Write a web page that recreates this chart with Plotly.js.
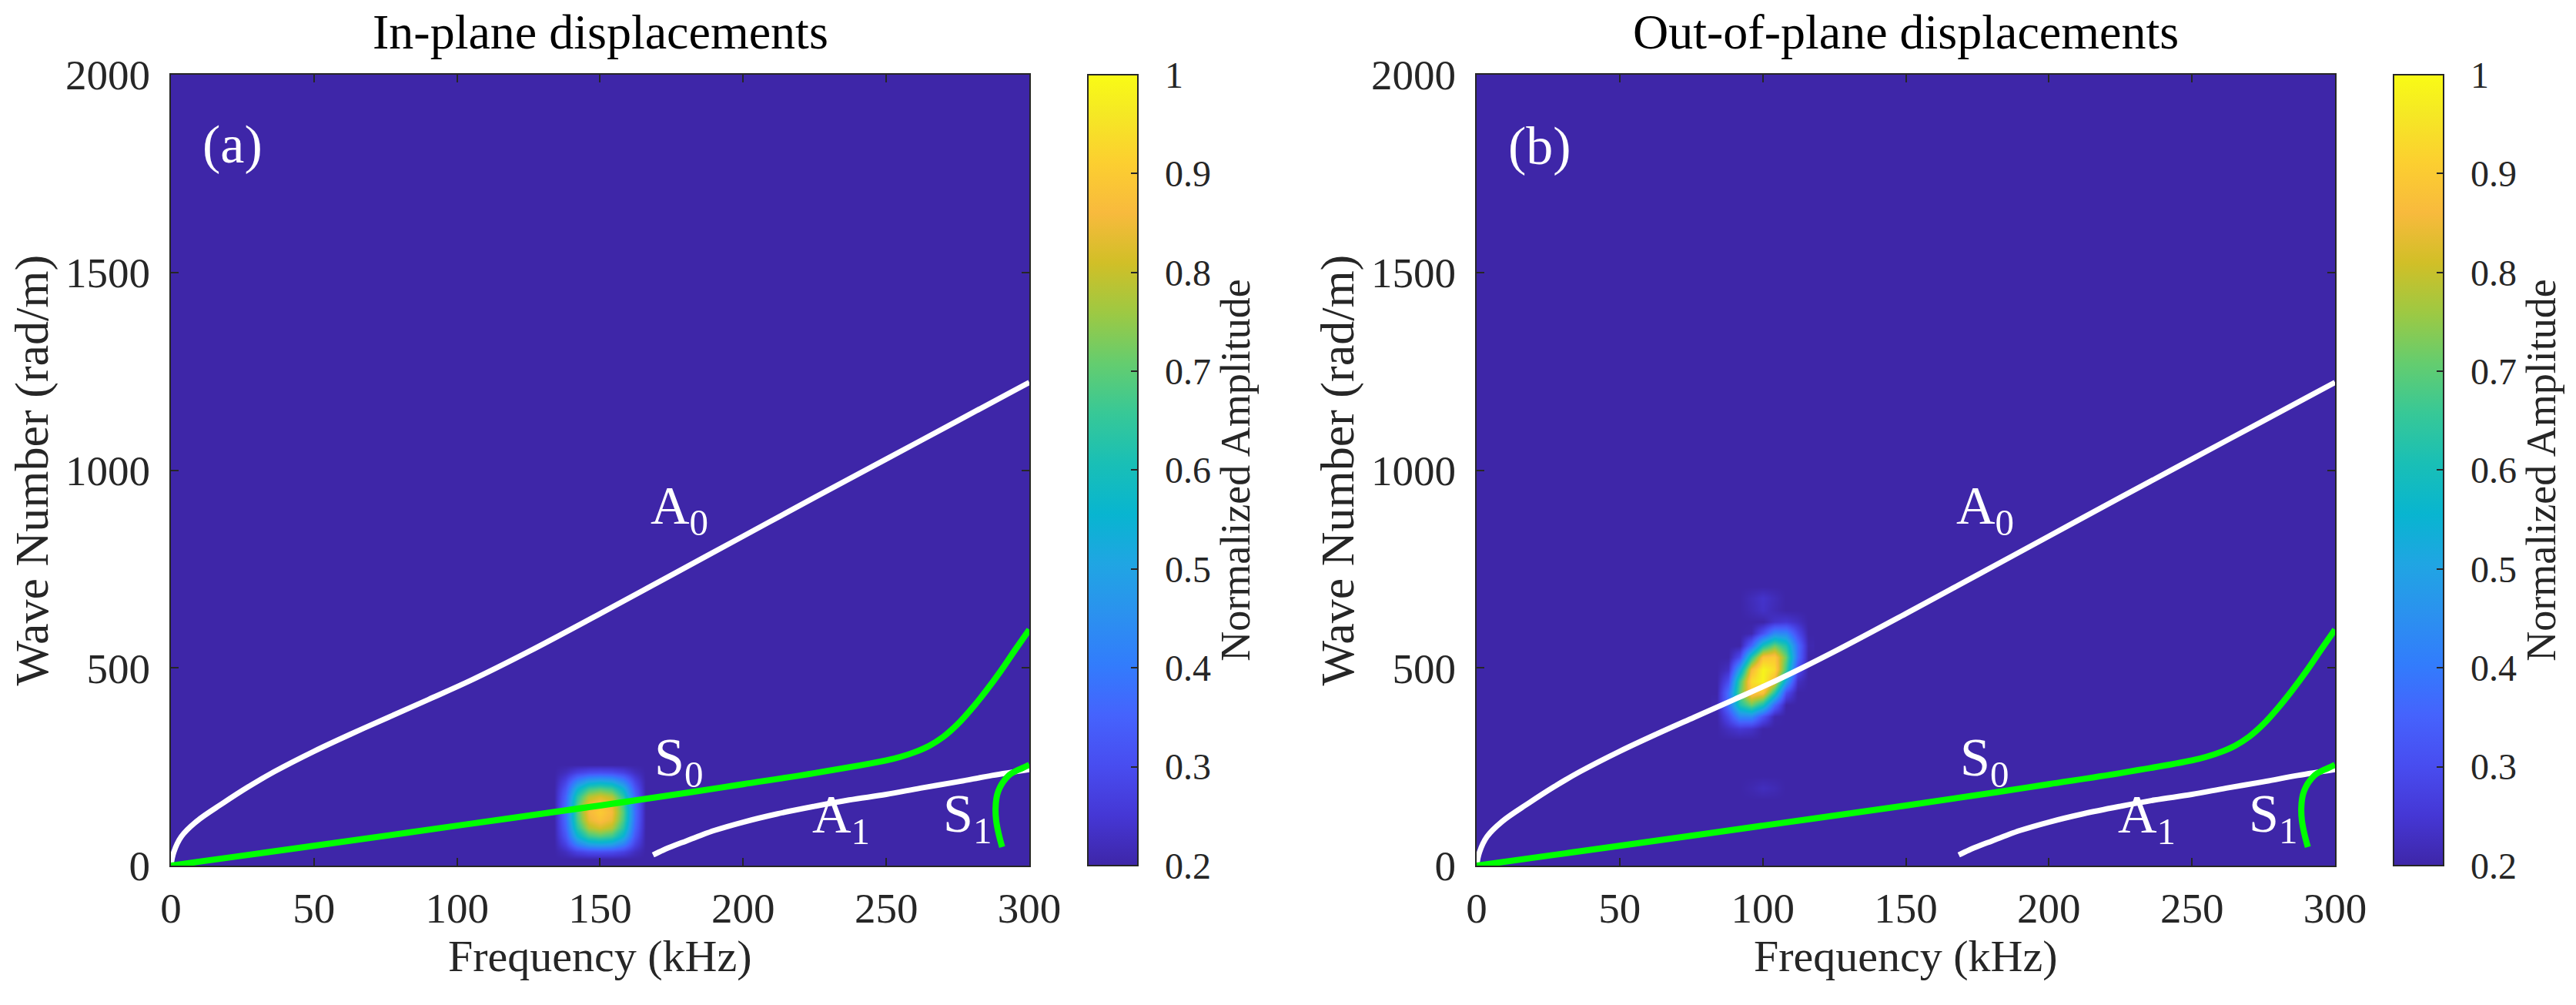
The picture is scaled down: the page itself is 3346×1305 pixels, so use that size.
<!DOCTYPE html>
<html>
<head>
<meta charset="utf-8">
<script src="https://cdn.plot.ly/plotly-3.0.1.min.js"></script>
<style>html,body{margin:0;padding:0;background:#fff;}#chart{width:3346px;height:1305px;}</style>
</head>
<body>
<div id="chart"></div>
<script>
// ---------- data ----------
const freqTicks = [0, 50, 100, 150, 200, 250, 300];
const waveTicks = [0, 500, 1000, 1500, 2000];
const cbTicks = [0.2, 0.3, 0.4, 0.5, 0.6, 0.7, 0.8, 0.9, 1];
const cbTickText = ['0.2', '0.3', '0.4', '0.5', '0.6', '0.7', '0.8', '0.9', '1'];

// dispersion curves (frequency kHz, wave number rad/m)
const A0_f = [0, 1, 3.6, 9, 18, 27, 36, 50, 63, 76, 90, 105, 125, 150, 175, 200, 225, 250, 275, 300];
const A0_k = [0, 34, 73, 112, 157, 199, 237, 289, 333, 375, 420, 469, 541, 637, 735, 833, 931, 1028, 1125, 1222];
const S0_f = [0, 25, 50, 100, 150, 182, 200, 225, 250, 255, 260, 265, 270, 275, 280, 285, 290, 295, 300];
const S0_k = [0, 25, 50, 101, 152, 186, 206, 234, 266, 275, 287, 303, 326, 358, 398, 443, 492, 545, 597];
const A1_f = [168.5, 172, 176, 180, 185, 190, 200, 212, 225, 237, 250, 262, 275, 287, 300];
const A1_k = [27, 39, 51, 62, 76, 89, 110, 131, 150, 166, 180, 196, 212, 228, 243];
const S1_f = [290.5, 289.3, 288.4, 288.2, 288.5, 289.2, 290.5, 292.8, 295.5, 298, 300];
const S1_k = [47, 80, 115, 144, 170, 189, 208, 228, 240, 248, 255];

// (a) in-plane amplitude spot
const blobA_f = [134, 138, 142, 146, 150, 154, 158, 162, 166];
const blobA_k = [15, 35, 55, 75, 95, 115, 135, 155, 175, 195, 215, 235, 255];
const blobA_z = [
  [0.2, 0.2,   0.2,   0.2,   0.2,   0.2,   0.2,   0.2,   0.2],
  [0.2, 0.226, 0.274, 0.299, 0.305, 0.299, 0.274, 0.226, 0.2],
  [0.2, 0.279, 0.42,  0.496, 0.515, 0.496, 0.42,  0.279, 0.2],
  [0.2, 0.322, 0.543, 0.661, 0.69,  0.661, 0.543, 0.322, 0.2],
  [0.2, 0.354, 0.631, 0.779, 0.816, 0.779, 0.631, 0.354, 0.2],
  [0.2, 0.37,  0.675, 0.838, 0.879, 0.838, 0.675, 0.37,  0.2],
  [0.2, 0.375, 0.69,  0.858, 0.9,   0.858, 0.69,  0.375, 0.2],
  [0.2, 0.37,  0.675, 0.838, 0.879, 0.838, 0.675, 0.37,  0.2],
  [0.2, 0.354, 0.631, 0.779, 0.816, 0.779, 0.631, 0.354, 0.2],
  [0.2, 0.322, 0.543, 0.661, 0.69,  0.661, 0.543, 0.322, 0.2],
  [0.2, 0.279, 0.42,  0.496, 0.515, 0.496, 0.42,  0.279, 0.2],
  [0.2, 0.226, 0.274, 0.299, 0.305, 0.299, 0.274, 0.226, 0.2],
  [0.2, 0.2,   0.2,   0.2,   0.2,   0.2,   0.2,   0.2,   0.2]
];

// (b) out-of-plane amplitude spot
const blobB_f = [84, 88, 92, 96, 100, 104, 108, 112, 116];
const blobB_k = [167, 197, 227, 257, 287, 317, 347, 377, 407, 437, 467, 497, 527, 557, 587, 617, 647, 677, 707];
const blobB_z = [
  [0.2, 0.2,   0.2,   0.2,   0.2,   0.2,   0.2,   0.2,   0.2],
  [0.2, 0.2,   0.2,   0.21,  0.225, 0.215, 0.2,   0.2,   0.2],
  [0.2, 0.2,   0.2,   0.2,   0.2,   0.2,   0.2,   0.2,   0.2],
  [0.2, 0.2,   0.2,   0.2,   0.2,   0.2,   0.2,   0.2,   0.2],
  [0.2, 0.2,   0.2,   0.2,   0.2,   0.2,   0.2,   0.2,   0.2],
  [0.2, 0.2,   0.2,   0.2,   0.2,   0.2,   0.2,   0.2,   0.2],
  [0.2, 0.228, 0.25,  0.238, 0.2,   0.2,   0.2,   0.2,   0.2],
  [0.2, 0.295, 0.432, 0.44,  0.314, 0.208, 0.2,   0.2,   0.2],
  [0.208, 0.376, 0.618, 0.716, 0.606, 0.359, 0.2, 0.2,   0.2],
  [0.2, 0.378, 0.71,  0.901, 0.882, 0.633, 0.302, 0.2,   0.2],
  [0.2, 0.301, 0.667, 0.934, 0.984, 0.86,  0.506, 0.231, 0.2],
  [0.2, 0.231, 0.506, 0.86,  0.984, 0.934, 0.667, 0.301, 0.2],
  [0.2, 0.2,   0.302, 0.633, 0.882, 0.901, 0.71,  0.378, 0.2],
  [0.2, 0.2,   0.2,   0.359, 0.606, 0.716, 0.618, 0.376, 0.208],
  [0.2, 0.2,   0.2,   0.208, 0.314, 0.44,  0.432, 0.295, 0.2],
  [0.2, 0.2,   0.2,   0.2,   0.2,   0.238, 0.25,  0.228, 0.2],
  [0.2, 0.2,   0.2,   0.215, 0.235, 0.215, 0.2,   0.2,   0.2],
  [0.2, 0.2,   0.2,   0.22,  0.24,  0.22,  0.2,   0.2,   0.2],
  [0.2, 0.2,   0.2,   0.2,   0.2,   0.2,   0.2,   0.2,   0.2]
];

// ---------- style ----------
const parula = [
  [0/63, 'rgb(62,38,168)'], [4/63, 'rgb(69,55,213)'], [8/63, 'rgb(72,77,240)'],
  [12/63, 'rgb(69,99,253)'], [16/63, 'rgb(50,124,252)'], [20/63, 'rgb(43,145,239)'],
  [24/63, 'rgb(32,165,227)'], [28/63, 'rgb(8,181,208)'], [32/63, 'rgb(25,191,182)'],
  [36/63, 'rgb(55,200,151)'], [40/63, 'rgb(100,205,111)'], [44/63, 'rgb(157,201,67)'],
  [48/63, 'rgb(209,191,39)'], [52/63, 'rgb(248,186,61)'], [56/63, 'rgb(252,207,48)'],
  [60/63, 'rgb(245,233,36)'], [1, 'rgb(249,251,21)']
];
const FONT = 'Liberation Serif, Times New Roman, Times, serif';
const INK = '#262626';
const WHITE_W = 7, GREEN_W = 8;

function curves(xa, ya) {
  return [
    {type: 'scatter', mode: 'lines', x: A0_f, y: A0_k, xaxis: xa, yaxis: ya, line: {color: '#ffffff', width: WHITE_W, shape: 'spline', smoothing: 1}, hoverinfo: 'skip'},
    {type: 'scatter', mode: 'lines', x: A1_f, y: A1_k, xaxis: xa, yaxis: ya, line: {color: '#ffffff', width: WHITE_W, shape: 'spline', smoothing: 1}, hoverinfo: 'skip'},
    {type: 'scatter', mode: 'lines', x: S0_f, y: S0_k, xaxis: xa, yaxis: ya, line: {color: '#00ff00', width: GREEN_W, shape: 'spline', smoothing: 1}, hoverinfo: 'skip'},
    {type: 'scatter', mode: 'lines', x: S1_f, y: S1_k, xaxis: xa, yaxis: ya, line: {color: '#00ff00', width: GREEN_W, shape: 'spline', smoothing: 1}, hoverinfo: 'skip'}
  ];
}

const data = [
  {type: 'heatmap', x: blobA_f, y: blobA_k, z: blobA_z, zsmooth: 'best', coloraxis: 'coloraxis', xaxis: 'x', yaxis: 'y', hoverinfo: 'skip'},
  ...curves('x', 'y'),
  {type: 'heatmap', x: blobB_f, y: blobB_k, z: blobB_z, zsmooth: 'best', coloraxis: 'coloraxis2', xaxis: 'x2', yaxis: 'y2', hoverinfo: 'skip'},
  ...curves('x2', 'y2')
];

const YDOM = [0.1387, 0.92567];
function xAxis(dom, anchor) {
  return {domain: dom, anchor: anchor, range: [0, 300], tickvals: freqTicks, ticktext: freqTicks.map(String),
    ticks: 'inside', ticklen: 10, tickwidth: 2, tickcolor: INK, mirror: 'ticks', showline: true, linecolor: INK, linewidth: 2,
    showgrid: false, zeroline: false, tickfont: {family: FONT, size: 55, color: INK}, ticklabelstandoff: 6, fixedrange: true};
}
function yAxis(anchor) {
  return {domain: YDOM, anchor: anchor, range: [0, 2000], tickvals: waveTicks, ticktext: waveTicks.map(String),
    ticks: 'inside', ticklen: 10, tickwidth: 2, tickcolor: INK, mirror: 'ticks', showline: true, linecolor: INK, linewidth: 2,
    showgrid: false, zeroline: false, tickfont: {family: FONT, size: 55, color: INK}, ticklabelstandoff: 14, fixedrange: true};
}
function cbar(x) {
  return {x: x, xanchor: 'left', y: YDOM[0], yanchor: 'bottom', len: YDOM[1] - YDOM[0], lenmode: 'fraction',
    thickness: 65, thicknessmode: 'pixels', xpad: 0, ypad: 0, outlinewidth: 2, outlinecolor: INK, borderwidth: 0,
    ticks: 'inside', ticklen: 10, tickwidth: 2, tickcolor: INK, tickvals: cbTicks,
    ticktext: cbTickText.map(t => '\u00a0\u00a0' + t),
    tickfont: {family: FONT, size: 48, color: INK},
    title: {text: 'Normalized Amplitude', side: 'right', font: {family: FONT, size: 54, color: INK}}};
}

function modeLabels(xr, yr) {
  const f = {family: FONT, size: 70, color: '#ffffff'};
  const base = {xref: xr, yref: yr, showarrow: false, font: f, xanchor: 'left', yanchor: 'middle'};
  return [
    Object.assign({}, base, {x: 167, y: 900, text: 'A<sub>0</sub>'}),
    Object.assign({}, base, {x: 168.4, y: 262, text: 'S<sub>0</sub>'}),
    Object.assign({}, base, {x: 223.6, y: 118, text: 'A<sub>1</sub>'}),
    Object.assign({}, base, {x: 269.3, y: 120, text: 'S<sub>1</sub>'})
  ];
}

const annotations = [
  {xref: 'paper', yref: 'paper', x: 0.23297, y: YDOM[1], xanchor: 'center', yanchor: 'bottom', yshift: 18, showarrow: false,
   text: 'In-plane displacements', font: {family: FONT, size: 64, color: '#000'}},
  {xref: 'paper', yref: 'paper', x: 0.73984, y: YDOM[1], xanchor: 'center', yanchor: 'bottom', yshift: 18, showarrow: false,
   text: 'Out-of-plane displacements', font: {family: FONT, size: 64, color: '#000'}},
  {xref: 'paper', yref: 'paper', x: 0.23297, y: 0.049, xanchor: 'center', yanchor: 'middle', showarrow: false,
   text: 'Frequency (kHz)', font: {family: FONT, size: 58, color: INK}},
  {xref: 'paper', yref: 'paper', x: 0.73984, y: 0.049, xanchor: 'center', yanchor: 'middle', showarrow: false,
   text: 'Frequency (kHz)', font: {family: FONT, size: 58, color: INK}},
  {xref: 'paper', yref: 'paper', x: 0.01255, y: 0.53218, xanchor: 'center', yanchor: 'middle', textangle: -90, showarrow: false,
   text: 'Wave Number (rad/m)', font: {family: FONT, size: 62, color: INK}},
  {xref: 'paper', yref: 'paper', x: 0.5194, y: 0.53218, xanchor: 'center', yanchor: 'middle', textangle: -90, showarrow: false,
   text: 'Wave Number (rad/m)', font: {family: FONT, size: 62, color: INK}},
  {xref: 'x', yref: 'y', x: 21.5, y: 1823, xanchor: 'center', yanchor: 'middle', showarrow: false, text: '(a)', font: {family: FONT, size: 70, color: '#ffffff'}},
  {xref: 'x2', yref: 'y2', x: 22.1, y: 1819, xanchor: 'center', yanchor: 'middle', showarrow: false, text: '(b)', font: {family: FONT, size: 70, color: '#ffffff'}},
  ...modeLabels('x', 'y'),
  ...modeLabels('x2', 'y2')
];

const layout = {
  width: 3346, height: 1305,
  margin: {l: 0, r: 0, t: 0, b: 0, autoexpand: false},
  paper_bgcolor: '#ffffff', plot_bgcolor: '#3E26A8',
  showlegend: false,
  font: {family: FONT, color: INK},
  xaxis: xAxis([0.06635, 0.39958], 'y'),
  yaxis: yAxis('x'),
  xaxis2: xAxis([0.57322, 0.90646], 'y2'),
  yaxis2: yAxis('x2'),
  coloraxis: {cmin: 0.2, cmax: 1, colorscale: parula, colorbar: cbar(0.4223)},
  coloraxis2: {cmin: 0.2, cmax: 1, colorscale: parula, colorbar: cbar(0.92917)},
  annotations: annotations
};

Plotly.newPlot('chart', data, layout, {staticPlot: true, displayModeBar: false});
</script>
</body>
</html>
